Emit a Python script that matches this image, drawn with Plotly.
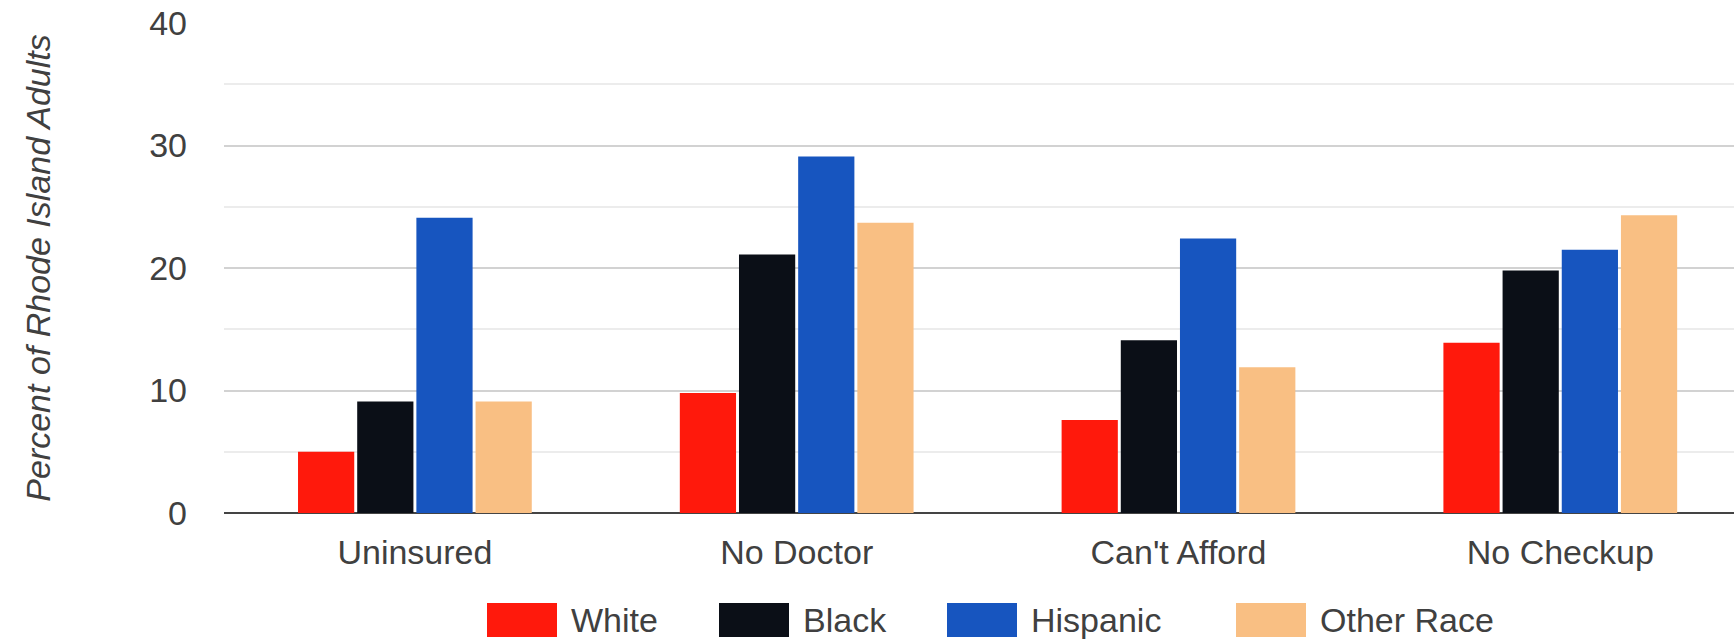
import plotly.graph_objects as go

categories = ["Uninsured", "No Doctor", "Can't Afford", "No Checkup"]
series_names = ["White", "Black", "Hispanic", "Other Race"]
white = [5.0, 9.8, 7.6, 13.9]
black = [9.1, 21.1, 14.1, 19.8]
hispanic = [24.1, 29.1, 22.4, 21.5]
other_race = [9.1, 23.7, 11.9, 24.3]
colors = ["#ff190c", "#0b0f17", "#1755bf", "#f9bf83"]
y_ticks = [0, 10, 20, 30, 40]

values = [white, black, hispanic, other_race]

W, H = 1734, 640
L, R, T, B = 224, 0, 23, 127
FONT = "Liberation Sans, Arial, sans-serif"
TXT = "#404040"
FS = 34

fig = go.Figure()
for name, vals, col in zip(series_names, values, colors):
    fig.add_trace(go.Bar(x=categories, y=vals, name=name, marker_color=col,
                         marker_line_width=0, showlegend=False))

fig.update_layout(
    width=W, height=H,
    margin=dict(l=L, r=R, t=T, b=B, pad=0),
    paper_bgcolor="white", plot_bgcolor="white",
    barmode="group", bargap=0.38, bargroupgap=0.05,
    font=dict(family=FONT, size=FS, color=TXT),
)
fig.update_xaxes(range=[-0.5, 3.455], showgrid=False, showline=False, zeroline=False,
                 ticks="", tickfont=dict(size=FS, color=TXT), ticklabelstandoff=16)
fig.update_yaxes(range=[0, 40], tickvals=y_ticks, showgrid=True, gridcolor="#d2d2d2", gridwidth=2,
                 zeroline=True, zerolinecolor="#444444", zerolinewidth=2,
                 minor=dict(dtick=5, showgrid=True, gridcolor="#ececec", gridwidth=2),
                 tickfont=dict(size=FS, color=TXT), ticklabelstandoff=36,
                 title=dict(text="<i>Percent of Rhode Island Adults</i>", font=dict(size=FS, color=TXT), standoff=88))

# manual legend (large swatches)
plot_w = W - L - R
plot_h = H - T - B
def px_to_paper_x(px):
    return (px - L) / plot_w
def px_to_paper_y(py):
    return (H - B - py) / plot_h

legend_x = [487, 719, 947, 1236]
sw_w, sw_top, sw_bot = 70, 603, 637
for name, col, x0 in zip(series_names, colors, legend_x):
    fig.add_shape(type="rect", xref="paper", yref="paper",
                  x0=px_to_paper_x(x0), x1=px_to_paper_x(x0 + sw_w),
                  y0=px_to_paper_y(sw_bot), y1=px_to_paper_y(sw_top),
                  fillcolor=col, line=dict(width=0))
    fig.add_annotation(xref="paper", yref="paper", x=px_to_paper_x(x0 + sw_w + 12),
                       y=px_to_paper_y(620), text=name, showarrow=False,
                       xanchor="left", yanchor="middle",
                       font=dict(size=FS, color=TXT, family=FONT))

fig.write_html("out.html")
